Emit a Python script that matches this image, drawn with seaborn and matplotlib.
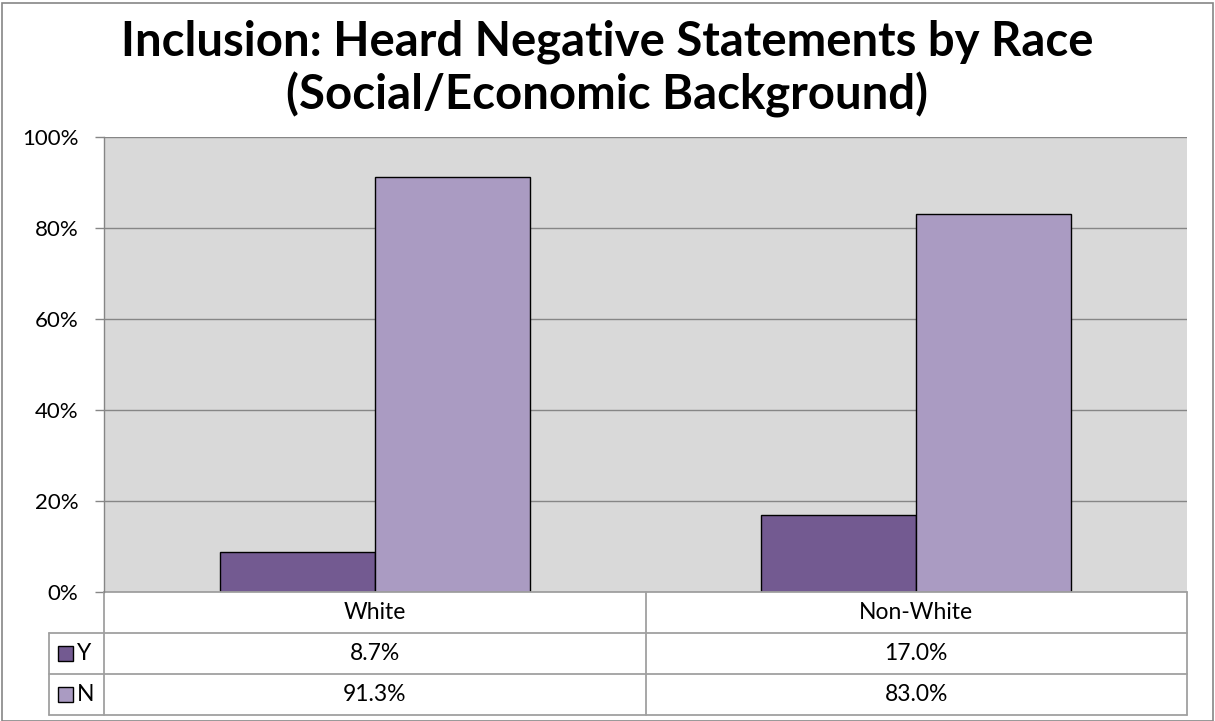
import matplotlib
matplotlib.use("Agg")
import matplotlib.pyplot as plt
import seaborn as sns
import pandas as pd
from matplotlib.patches import Rectangle
from matplotlib.lines import Line2D

categories = ["White", "Non-White"]
series_names = ["Y", "N"]
y_values = [8.7, 17.0]
n_values = [91.3, 83.0]
y_labels = ["8.7%", "17.0%"]
n_labels = ["91.3%", "83.0%"]
title_lines = ["Inclusion: Heard Negative Statements by Race", "(Social/Economic Background)"]
colors = {"Y": "#735A91", "N": "#AA9BC2"}

df = pd.DataFrame({
    "Race": categories * 2,
    "Response": ["Y"] * len(categories) + ["N"] * len(categories),
    "Value": y_values + n_values,
})

sns.set_style("white")
plt.rcParams["font.family"] = ["Lato", "DejaVu Sans"]
plt.rcParams["text.color"] = "black"
plt.rcParams["ytick.color"] = "black"

fig = plt.figure(figsize=(12.15, 7.21), dpi=100)
W, H = 1215, 721
ax = fig.add_axes([104 / W, 1 - 592 / H, 1083 / W, 455 / H])
ax.set_facecolor("#D9D9D9")

sns.barplot(data=df, x="Race", y="Value", hue="Response", hue_order=series_names,
            order=categories, palette=colors, width=0.573, edgecolor="black",
            linewidth=1.0, ax=ax, legend=False, saturation=1)

ax.set_ylim(0, 100)
ax.set_xlim(-0.5, 1.5)
ax.set_yticks([0, 20, 40, 60, 80, 100])
ax.set_yticklabels(["0%", "20%", "40%", "60%", "80%", "100%"], fontsize=16, color="black")
ax.yaxis.grid(True, color="#868686", linewidth=1)
ax.set_axisbelow(True)
ax.set_xticks([])
ax.set_xlabel("")
ax.set_ylabel("")
for s in ["top", "right", "bottom"]:
    ax.spines[s].set_visible(False)
ax.spines["left"].set_color("#868686")
ax.spines["left"].set_linewidth(1)
ax.tick_params(axis="y", which="major", left=True, length=6.5, width=1, color="#868686", pad=12)

# data table below the axes
h = 41 / 455
x0 = (49 - 104) / 1083
lc = "#A0A0A0"
lines = [
    ([0, 1], [0, 0]),
    ([x0, 1], [-h, -h]),
    ([x0, 1], [-2 * h, -2 * h]),
    ([x0, 1], [-3 * h, -3 * h]),
    ([0, 0], [0, -3 * h]),
    ([0.5, 0.5], [0, -3 * h]),
    ([1, 1], [0, -3 * h]),
    ([x0, x0], [-h, -3 * h]),
]
for xs, ys in lines:
    ax.add_line(Line2D(xs, ys, transform=ax.transAxes, color=lc, linewidth=1.3, clip_on=False))

fs = 16.5
for i, cat in enumerate(categories):
    cx = 0.25 + 0.5 * i
    ax.text(cx, -0.5 * h, cat, transform=ax.transAxes, ha="center", va="center", fontsize=fs)
    ax.text(cx, -1.5 * h, y_labels[i], transform=ax.transAxes, ha="center", va="center", fontsize=fs)
    ax.text(cx, -2.5 * h, n_labels[i], transform=ax.transAxes, ha="center", va="center", fontsize=fs)

for j, name in enumerate(series_names):
    yc = -(1.5 + j) * h
    sq = 15 / 455
    ax.add_patch(Rectangle((x0 + 9 / 1083, yc - sq / 2), 15 / 1083, sq, transform=ax.transAxes,
                           facecolor=colors[name], edgecolor="black", linewidth=1, clip_on=False))
    ax.text(x0 + 28 / 1083, yc, name, transform=ax.transAxes, ha="left", va="center", fontsize=fs)

fig.text(607 / W, 1 - 55 / H, title_lines[0], ha="center", va="baseline", fontsize=34, fontweight="bold")
fig.text(607 / W, 1 - 109 / H, title_lines[1], ha="center", va="baseline", fontsize=34, fontweight="bold")

fig.patches.append(Rectangle((2 / W, 0), (W - 4) / W, 1 - 3 / H, transform=fig.transFigure,
                             fill=False, edgecolor="#868686", linewidth=1.2))

fig.savefig("out.png", dpi=100)
